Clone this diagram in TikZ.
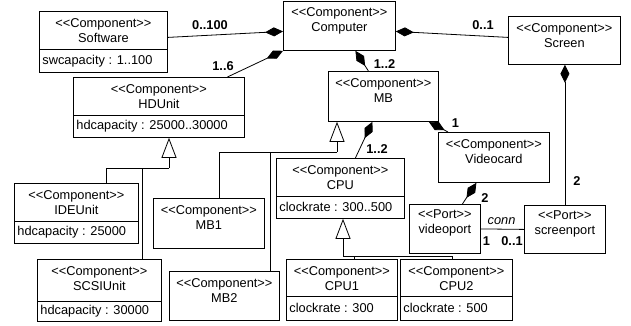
\documentclass[tikz,border=0pt]{standalone}
\usepackage{fontspec}
\setmainfont{Liberation Sans}
\usetikzlibrary{arrows.meta}

\newcommand{\stereo}[1]{<{}<#1>{}>}

\begin{document}
\begin{tikzpicture}[
    x=1pt,y=-1pt,
    line width=0.8pt,
    font=\fontsize{12.8}{15}\selectfont,
    box/.style={draw,anchor=north west,inner sep=0pt},
    ttl/.style={anchor=north,align=center,minimum height=38pt,inner sep=0pt},
    attr/.style={anchor=south west,inner xsep=3pt,inner ysep=0pt},
    composite/.style={-{Diamond[length=18pt,width=9pt]}},
    inherit/.style={-{Triangle[open,length=20pt,width=15pt]}},
    mult/.style={font=\fontsize{12.8}{15}\selectfont\bfseries}
]
\useasboundingbox (0,0) rectangle (631,325);

% components
\node[box,minimum width=112pt,minimum height=49pt] (computer) at (283,1) {};
\node[ttl] (computername) at (computer.north) {\stereo{Component}\\Computer};

\node[box,minimum width=128pt,minimum height=61pt] (sw) at (39,11) {};
\node[ttl] (swname) at (sw.north) {\stereo{Component}\\Software};
\node[attr,minimum height=23pt] (swattr) at (sw.south west) {swcapacity : 1..100};
\draw (swattr.north -| sw.west) -- (swattr.north -| sw.east);

\node[box,minimum width=112pt,minimum height=48pt] (screen) at (508,16) {};
\node[ttl] (screenname) at (screen.north) {\stereo{Component}\\Screen};

\node[box,minimum width=171pt,minimum height=60pt] (hd) at (73,77) {};
\node[ttl] (hdname) at (hd.north) {\stereo{Component}\\HDUnit};
\node[attr,minimum height=22pt] (hdattr) at (hd.south west) {hdcapacity : 25000..30000};
\draw (hdattr.north -| hd.west) -- (hdattr.north -| hd.east);

\node[box,minimum width=110pt,minimum height=50pt] (mb) at (328,71) {};
\node[ttl] (mbname) at (mb.north) {\stereo{Component}\\MB};

\node[box,minimum width=111pt,minimum height=50pt] (video) at (438,132) {};
\node[ttl] (videoname) at (video.north) {\stereo{Component}\\Videocard};

\node[box,minimum width=128pt,minimum height=60pt] (cpu) at (276,158) {};
\node[ttl] (cpuname) at (cpu.north) {\stereo{Component}\\CPU};
\node[attr,minimum height=22pt] (cpuattr) at (cpu.south west) {clockrate : 300..500};
\draw (cpuattr.north -| cpu.west) -- (cpuattr.north -| cpu.east);

\node[box,minimum width=124pt,minimum height=60pt] (ide) at (14,183) {};
\node[ttl] (idename) at (ide.north) {\stereo{Component}\\IDEUnit};
\node[attr,minimum height=22pt] (ideattr) at (ide.south west) {hdcapacity : 25000};
\draw (ideattr.north -| ide.west) -- (ideattr.north -| ide.east);

\node[box,minimum width=111pt,minimum height=50pt] (mbone) at (153,198) {};
\node[ttl] (mbonename) at (mbone.north) {\stereo{Component}\\MB1};

\node[box,minimum width=124pt,minimum height=62pt] (scsi) at (37,259) {};
\node[ttl] (scsiname) at (scsi.north) {\stereo{Component}\\SCSIUnit};
\node[attr,minimum height=20pt] (scsiattr) at (scsi.south west) {hdcapacity : 30000};
\draw (scsiattr.north -| scsi.west) -- (scsiattr.north -| scsi.east);

\node[box,minimum width=110pt,minimum height=49pt] (mbtwo) at (169,271) {};
\node[ttl] (mbtwoname) at (mbtwo.north) {\stereo{Component}\\MB2};

\node[box,minimum width=111pt,minimum height=61pt] (cpuone) at (286,259) {};
\node[ttl] (cpuonename) at (cpuone.north) {\stereo{Component}\\CPU1};
\node[attr,minimum height=24pt] (cpuoneattr) at (cpuone.south west) {clockrate : 300};
\draw (cpuoneattr.north -| cpuone.west) -- (cpuoneattr.north -| cpuone.east);

\node[box,minimum width=112pt,minimum height=61pt] (cputwo) at (400,259) {};
\node[ttl] (cputwoname) at (cputwo.north) {\stereo{Component}\\CPU2};
\node[attr,minimum height=24pt] (cputwoattr) at (cputwo.south west) {clockrate : 500};
\draw (cputwoattr.north -| cputwo.west) -- (cputwoattr.north -| cputwo.east);

% ports
\node[box,minimum width=71pt,minimum height=49pt] (vport) at (409,204) {};
\node[ttl] (vportname) at (vport.north) {\stereo{Port}\\videoport};

\node[box,minimum width=81pt,minimum height=48pt] (sport) at (524,205) {};
\node[ttl] (sportname) at (sport.north) {\stereo{Port}\\screenport};

% composition
\draw[composite] ([yshift=4.5]sw.east) -- ([yshift=-5.5]computer.west);
\draw[composite] ([xshift=68.5]hd.north) -- (computer.south west);
\draw[composite] ([yshift=3]screen.west) -- ([yshift=-5.5]computer.east);
\draw[composite] ([xshift=-15]mb.north) -- ([xshift=16]computer.south);
\draw[composite] ([xshift=15]cpu.north) -- ([xshift=-11]mb.south);
\draw[composite] ([xshift=10]video.north west) -- ([xshift=-10]mb.south east);
\draw[composite] ([xshift=17.5]vport.north) -- ([xshift=-17.5]video.south);
\draw[composite] (sport.north) -- (sport.north |- screen.south);

% connector between the ports
\draw (vport.east) -- (sport.west);

% generalization
\coordinate (hdfork) at (169,168);
\draw[inherit] (hdfork) -- (hdfork |- hd.south);
\draw ([xshift=30]ide.north) |- (hdfork);
\draw ([xshift=43]scsi.north) |- (hdfork);

\coordinate (mbfork) at (337,152);
\draw[inherit] (mbfork) -- (mbfork |- mb.south);
\draw ([xshift=10.5]mbone.north) |- (mbfork);
\draw ([xshift=46]mbtwo.north) |- (mbfork);

\coordinate (cpufork) at (343,256);
\draw[inherit] (cpufork) -- (cpufork |- cpu.south);
\draw ([xshift=12.5]cpuone.north) |- (cpufork);
\draw ([xshift=-4]cputwo.north) |- (cpufork);

% multiplicities
\node[mult] (msw) at (210,25) {0..100};
\node[mult] (mhd) at (223,66) {1..6};
\node[mult] (mscreen) at (483,25) {0..1};
\node[mult] (mmb) at (384.5,64) {1..2};
\node[mult] (mvideo) at (455.5,123) {1};
\node[mult] (mcpu) at (377,149) {1..2};
\node[mult] (mvport) at (485,198) {2};
\node[mult] (msport) at (577,181) {2};
\node[font=\fontsize{12.8}{15}\selectfont\itshape] (conn) at (501.5,221) {conn};
\node[mult] (mconnv) at (486.5,241) {1};
\node[mult] (mconns) at (512,241) {0..1};

\end{tikzpicture}
\end{document}
